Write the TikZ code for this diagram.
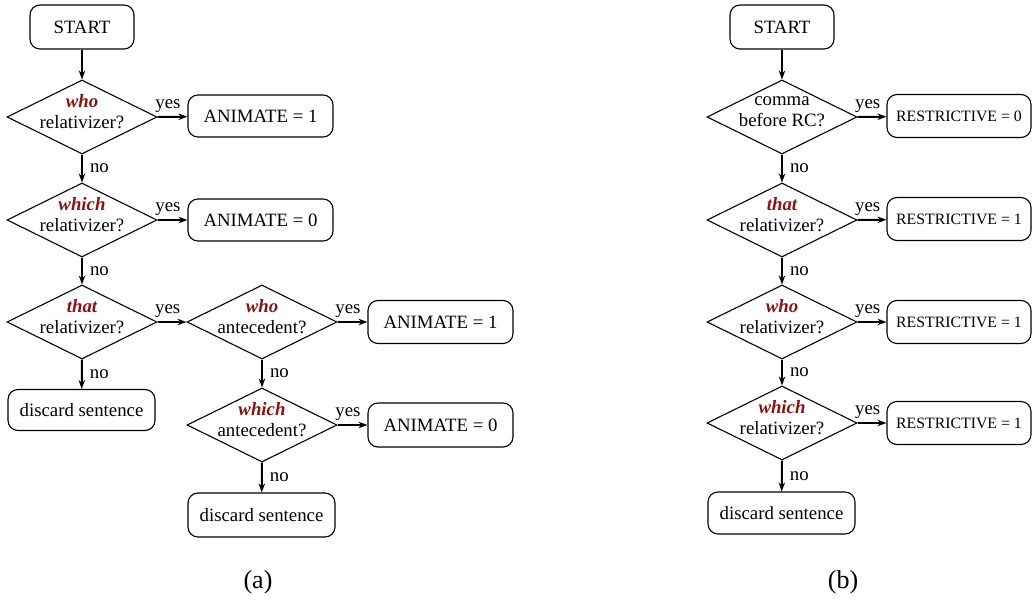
\documentclass[tikz,border=0pt]{standalone}
\usepackage{fontspec}
\setmainfont{Liberation Serif}
\usetikzlibrary{shapes.geometric,arrows.meta}
\definecolor{kw}{RGB}{140,18,18}
\newcommand{\kwd}[1]{{\color{kw}\bfseries\itshape #1}}
\begin{document}
\begin{tikzpicture}[x=1pt,y=-1pt,
  every node/.style={font=\fontsize{18.8}{21}\selectfont},
  rbox/.style={draw,rounded corners=10pt,line width=1.1pt,inner sep=0pt,minimum height=42pt},
  dia/.style={diamond,draw,line width=1.1pt,inner sep=0pt,minimum width=150pt,minimum height=74pt},
  dtext/.style={align=center,inner sep=0pt,yshift=5pt},
  rsmall/.style={rbox,font=\fontsize{15.8}{18}\selectfont,minimum width=144pt,minimum height=43pt},
  arr/.style={-{Stealth[length=9pt,width=6.5pt]},line width=2pt},
  yeslab/.style={above,pos=0.35,inner sep=3pt},
  nolab/.style={right=5pt,pos=0.5,inner sep=2pt},
  captext/.style={font=\fontsize{26}{30}\selectfont}
]
\useasboundingbox (0,0) rectangle (1035,601);

% ---------------- (a) ----------------
\node[rbox,minimum width=104pt,minimum height=44pt] (aS) at (82,27) {START};
\node[dia] (aD1) at (82,117) {};
\node[dtext] (aD1t) at (aD1) {\kwd{who}\\relativizer?};
\node[rbox,minimum width=145pt] (aB1) at (260.5,116) {ANIMATE = 1};
\node[dia] (aD2) at (82,220) {};
\node[dtext] (aD2t) at (aD2) {\kwd{which}\\relativizer?};
\node[rbox,minimum width=145pt] (aB2) at (260.5,220) {ANIMATE = 0};
\node[dia] (aD3) at (82,322) {};
\node[dtext] (aD3t) at (aD3) {\kwd{that}\\relativizer?};
\node[rbox,minimum width=147pt,minimum height=41pt] (aX1) at (81.5,410) {discard sentence};
\node[dia] (aD4) at (262,322) {};
\node[dtext] (aD4t) at (aD4) {\kwd{who}\\antecedent?};
\node[rbox,minimum width=145pt,minimum height=43pt] (aB3) at (440.5,322) {ANIMATE = 1};
\node[dia] (aD5) at (262,425) {};
\node[dtext] (aD5t) at (aD5) {\kwd{which}\\antecedent?};
\node[rbox,minimum width=145pt,minimum height=44pt] (aB4) at (440.5,425) {ANIMATE = 0};
\node[rbox,minimum width=147pt,minimum height=44pt] (aX2) at (261.5,515) {discard sentence};
\node[captext] (acap) at (258,582) {(a)};

\draw[arr] (aS) -- (aD1.north);
\draw[arr] (aD1.east) -- node[yeslab]{yes} (aB1);
\draw[arr] (aD1.south) -- node[nolab]{no} (aD2.north);
\draw[arr] (aD2.east) -- node[yeslab]{yes} (aB2);
\draw[arr] (aD2.south) -- node[nolab]{no} (aD3.north);
\draw[arr] (aD3.east) -- node[yeslab]{yes} (aD4.west);
\draw[arr] (aD3.south) -- node[nolab]{no} (aX1);
\draw[arr] (aD4.east) -- node[yeslab]{yes} (aB3);
\draw[arr] (aD4.south) -- node[nolab]{no} (aD5.north);
\draw[arr] (aD5.east) -- node[yeslab]{yes} (aB4);
\draw[arr] (aD5.south) -- node[nolab]{no} (aX2);

% ---------------- (b) ----------------
\node[rbox,minimum width=104pt,minimum height=44pt] (bS) at (782,27) {START};
\node[dia] (bD1) at (782,117) {};
\node[dtext] (bD1t) at (bD1) {comma\\before RC?};
\node[rsmall] (bB1) at (959,116) {RESTRICTIVE = 0};
\node[dia] (bD2) at (782,220) {};
\node[dtext] (bD2t) at (bD2) {\kwd{that}\\relativizer?};
\node[rsmall] (bB2) at (959,219) {RESTRICTIVE = 1};
\node[dia] (bD3) at (782,322) {};
\node[dtext] (bD3t) at (bD3) {\kwd{who}\\relativizer?};
\node[rsmall] (bB3) at (959,322) {RESTRICTIVE = 1};
\node[dia] (bD4) at (782,423) {};
\node[dtext] (bD4t) at (bD4) {\kwd{which}\\relativizer?};
\node[rsmall] (bB4) at (959,423) {RESTRICTIVE = 1};
\node[rbox,minimum width=147pt] (bX) at (781.5,513) {discard sentence};
\node[captext] (bcap) at (843,582) {(b)};

\draw[arr] (bS) -- (bD1.north);
\draw[arr] (bD1.east) -- node[yeslab]{yes} (bB1);
\draw[arr] (bD1.south) -- node[nolab]{no} (bD2.north);
\draw[arr] (bD2.east) -- node[yeslab]{yes} (bB2);
\draw[arr] (bD2.south) -- node[nolab]{no} (bD3.north);
\draw[arr] (bD3.east) -- node[yeslab]{yes} (bB3);
\draw[arr] (bD3.south) -- node[nolab]{no} (bD4.north);
\draw[arr] (bD4.east) -- node[yeslab]{yes} (bB4);
\draw[arr] (bD4.south) -- node[nolab]{no} (bX);
\end{tikzpicture}
\end{document}
